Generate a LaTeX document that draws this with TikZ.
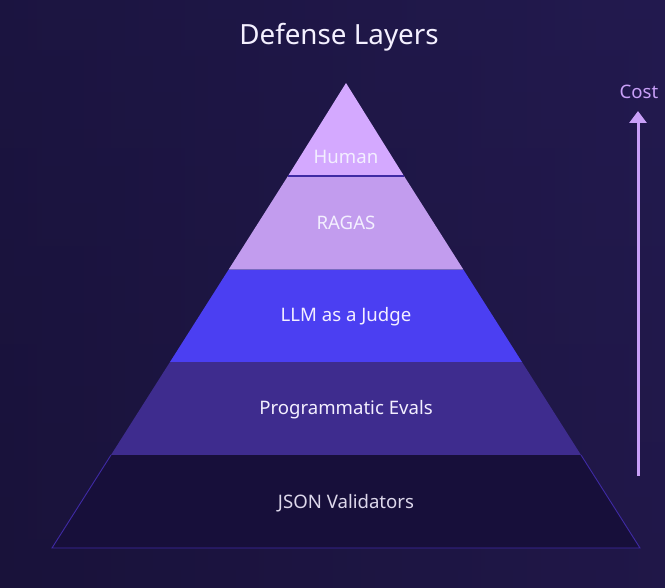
\documentclass[tikz,border=0pt]{standalone}
\usepackage{fontspec}
\setmainfont{Noto Sans}
\usetikzlibrary{arrows.meta}
\definecolor{bgA}{HTML}{1F184A}
\definecolor{bgB}{HTML}{19123A}
\definecolor{bgC}{HTML}{251B52}
\definecolor{cHuman}{HTML}{D4A9FF}
\definecolor{cRagas}{HTML}{C29CEE}
\definecolor{cLLM}{HTML}{4B3FF2}
\definecolor{cProg}{HTML}{3E2C8E}
\definecolor{cJson}{HTML}{170F3A}
\definecolor{cEdge}{HTML}{3F2AA5}
\definecolor{cCost}{HTML}{C9A0F8}
\definecolor{cText}{HTML}{F3EFFF}
\begin{document}
\begin{tikzpicture}[x=1pt,y=-1pt,
  lbl/.style={text=cText,font=\fontsize{18.6}{21}\selectfont,inner sep=0pt}]
\useasboundingbox (0,0) rectangle (665,588);
\shade[top color=bgA,bottom color=bgB] (0,0) rectangle (665,588);
\shade[left color=bgA!0!bgB,right color=bgC,opacity=0.6] (0,0) rectangle (665,588);
% layers: apex (346,83), base y=548 x 52..640
\coordinate (apex) at (346,83);
\fill[cJson] (111,455) -- (581,455) -- (640,548) -- (52,548) -- cycle;
\draw[cEdge,line width=0.9pt] (111,455) -- (52,548) -- (640,548) -- (581,455);
\fill[cProg] (170,362) -- (522,362) -- (581,455) -- (111,455) -- cycle;
\fill[cLLM] (229,269) -- (463,269) -- (522,362) -- (170,362) -- cycle;
\fill[cRagas] (288,176) -- (404,176) -- (463,269) -- (229,269) -- cycle;
\fill[cHuman] (apex) -- (404,176) -- (288,176) -- cycle;
\draw[cEdge,line width=1.2pt] (288,176) -- (404,176);
\draw[cEdge!70,line width=0.6pt] (229,269) -- (463,269);
% labels
\node[font=\fontsize{27.8}{30}\selectfont,text=cText!95!white,inner sep=0pt] (title) at (339,37) {Defense Layers};
\node[lbl] (human) at (346,157) {Human};
\node[lbl] (ragas) at (346,223) {RAGAS};
\node[lbl] (llm) at (346,317) {LLM as a Judge};
\node[lbl] (prog) at (346,410) {Programmatic Evals};
\node[lbl,text=cText!90!cJson] (json) at (346,503) {JSON Validators};
% cost arrow
\node[text=cCost,font=\fontsize{18.6}{21}\selectfont,inner sep=0pt] (cost) at (639,92) {Cost};
\coordinate (cb) at (638,476);
\coordinate (ct) at (638,111);
\draw[cCost,line width=3pt,-{Triangle[length=12pt,width=17pt]}] (cb) -- (ct);
\end{tikzpicture}
\end{document}
